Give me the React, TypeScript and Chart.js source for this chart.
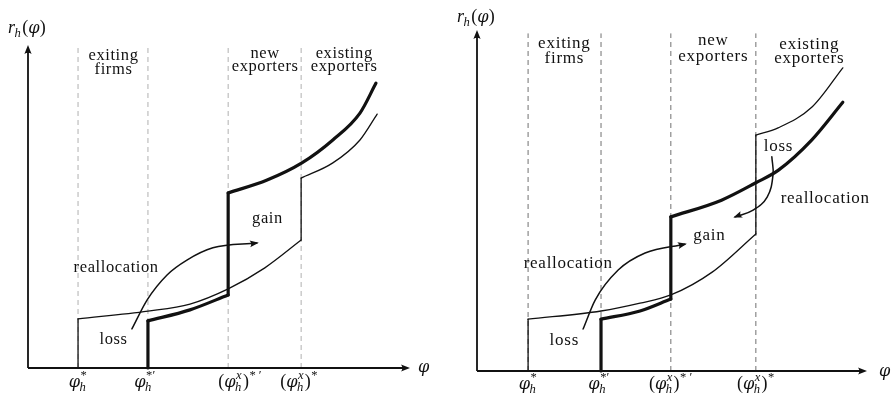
import React, { useEffect, useRef } from "react";
import { Chart, registerables } from "chart.js";

Chart.register(...registerables);

type Pt = { x: number; y: number };
type Atom = { b: string; it?: boolean; sup?: string; sub?: string };

// ---------- left panel: productivity cut-offs and revenue schedules ----------
const leftCutoffs = [13.1, 31.4, 52.4, 71.5];
const leftOldStepLow: Pt[] = [{ x: 13.1, y: 0 }, { x: 13.1, y: 15.2 }];
const leftOldLower: Pt[] = [
  { x: 13.1, y: 15.2 }, { x: 31.4, y: 17.6 }, { x: 42.4, y: 19.8 },
  { x: 52.4, y: 24.5 }, { x: 62.0, y: 31.0 }, { x: 71.5, y: 39.6 },
];
const leftOldStepHigh: Pt[] = [{ x: 71.5, y: 39.6 }, { x: 71.5, y: 58.8 }];
const leftOldUpper: Pt[] = [
  { x: 71.5, y: 58.8 }, { x: 79.8, y: 63.5 }, { x: 86.9, y: 70.6 }, { x: 91.4, y: 78.6 },
];
const leftNewStepLow: Pt[] = [{ x: 31.4, y: 0 }, { x: 31.4, y: 14.6 }];
const leftNewLower: Pt[] = [{ x: 31.4, y: 14.6 }, { x: 42.4, y: 18.0 }, { x: 52.4, y: 22.6 }];
const leftNewStepHigh: Pt[] = [{ x: 52.4, y: 22.6 }, { x: 52.4, y: 54.2 }];
const leftNewUpper: Pt[] = [
  { x: 52.4, y: 54.2 }, { x: 62.6, y: 58.2 }, { x: 71.7, y: 63.5 },
  { x: 79.8, y: 70.6 }, { x: 86.9, y: 78.9 }, { x: 91.1, y: 88.2 },
];
const leftShiftArrow: Pt[] = [
  { x: 27.2, y: 12.1 }, { x: 31.2, y: 21.1 }, { x: 36.4, y: 28.8 },
  { x: 41.6, y: 33.4 }, { x: 48.4, y: 37.2 }, { x: 59.9, y: 38.7 },
];

// ---------- right panel ----------
const rightCutoffs = [13.1, 31.8, 49.7, 71.5];
const rightOldStepLow: Pt[] = [{ x: 13.1, y: 0 }, { x: 13.1, y: 15.2 }];
const rightOldLower: Pt[] = [
  { x: 13.1, y: 15.2 }, { x: 31.8, y: 17.6 }, { x: 41.8, y: 19.9 },
  { x: 49.7, y: 22.3 }, { x: 60.3, y: 29.0 }, { x: 71.5, y: 40.2 },
];
const rightOldStepHigh: Pt[] = [{ x: 71.5, y: 40.2 }, { x: 71.5, y: 69.2 }];
const rightOldUpper: Pt[] = [
  { x: 71.5, y: 69.2 }, { x: 77.2, y: 71.3 }, { x: 85.9, y: 77.4 }, { x: 93.8, y: 88.9 },
];
const rightNewStepLow: Pt[] = [{ x: 31.8, y: 0 }, { x: 31.8, y: 15.2 }];
const rightNewLower: Pt[] = [{ x: 31.8, y: 15.2 }, { x: 41.8, y: 17.6 }, { x: 49.7, y: 21.1 }];
const rightNewStepHigh: Pt[] = [{ x: 49.7, y: 21.1 }, { x: 49.7, y: 45.2 }];
const rightNewUpper: Pt[] = [
  { x: 49.7, y: 45.2 }, { x: 62.7, y: 50.1 }, { x: 71.5, y: 55.2 },
  { x: 77.3, y: 58.9 }, { x: 85.8, y: 67.7 }, { x: 93.8, y: 78.8 },
];
const rightShiftArrow: Pt[] = [
  { x: 27.2, y: 12.3 }, { x: 30.3, y: 20.8 }, { x: 36.2, y: 29.6 },
  { x: 43.1, y: 34.6 }, { x: 53.3, y: 37.2 },
];
const rightBackArrow: Pt[] = [
  { x: 75.6, y: 62.8 }, { x: 75.9, y: 57.5 }, { x: 74.4, y: 51.0 },
  { x: 70.8, y: 47.2 }, { x: 66.2, y: 45.2 },
];

// ---------- tick and axis labels ----------
const cutoffLabels: Atom[][] = [
  [{ b: "φ", it: true, sup: "*", sub: "h" }],
  [{ b: "φ", it: true, sup: "*′", sub: "h" }],
  [{ b: "(" }, { b: "φ", it: true, sup: "x", sub: "h" }, { b: ")", sup: "* ′" }],
  [{ b: "(" }, { b: "φ", it: true, sup: "x", sub: "h" }, { b: ")", sup: "*" }],
];
const yAxisTitle: Atom[] = [{ b: "r", it: true, sub: "h" }, { b: "(" }, { b: "φ", it: true }, { b: ")" }];
const xAxisTitle: Atom[] = [{ b: "φ", it: true }];

type Note = { t: string; x: number; y: number };

const leftNotes: Note[] = [
  { t: "exiting", x: 22.3, y: 95.4 },
  { t: "firms", x: 22.3, y: 91.0 },
  { t: "new", x: 62.0, y: 96.0 },
  { t: "exporters", x: 62.0, y: 92.0 },
  { t: "existing", x: 82.7, y: 96.0 },
  { t: "exporters", x: 82.7, y: 92.0 },
  { t: "reallocation", x: 23.0, y: 29.7 },
  { t: "loss", x: 22.3, y: 7.4 },
  { t: "gain", x: 62.6, y: 44.9 },
];
const rightNotes: Note[] = [
  { t: "exiting", x: 22.3, y: 94.7 },
  { t: "firms", x: 22.3, y: 90.3 },
  { t: "new", x: 60.5, y: 95.6 },
  { t: "exporters", x: 60.5, y: 90.9 },
  { t: "existing", x: 85.1, y: 94.4 },
  { t: "exporters", x: 85.1, y: 90.3 },
  { t: "loss", x: 77.2, y: 64.5 },
  { t: "reallocation", x: 89.2, y: 49.3 },
  { t: "gain", x: 59.5, y: 38.4 },
  { t: "reallocation", x: 23.3, y: 30.2 },
  { t: "loss", x: 22.3, y: 7.6 },
];

const FONT = '"Liberation Serif", "DejaVu Serif", serif';
const PHI_FONT = '"DejaVu Serif", serif';
const INK = "#111";

type PanelSpec = {
  width: number;
  pad: { left: number; top: number; right: number; bottom: number };
  cutoffs: number[];
  dashTop: number;
  dashColor: string;
  thin: Pt[][];
  thick: Pt[][];
  arrows: { pts: Pt[]; curve: "monotone" | "default" }[];
  notes: Note[];
  noteSize: number;
  noteSpacing: number;
  labelShift: number[];
  tickBaseline: number;
  xTitleOffset: { dx: number; dy: number };
  yTitleOffset: { dx: number; dy: number };
};

// the curly phi comes from DejaVu Serif, everything else from Liberation Serif
const fontOf = (it: boolean | undefined, size: number, text: string) =>
  text === "φ"
    ? `${it ? "italic " : ""}${size * 0.9}px ${PHI_FONT}`
    : `${it ? "italic " : ""}${size}px ${FONT}`;

function scriptItalic(s: string) {
  return /^[a-z]+$/.test(s);
}

function atomWidth(ctx: CanvasRenderingContext2D, a: Atom, size: number) {
  ctx.font = fontOf(a.it, size, a.b);
  const bw = ctx.measureText(a.b).width;
  let sw = 0;
  const ss = size * 0.7;
  for (const s of [a.sup, a.sub]) {
    if (!s) continue;
    ctx.font = fontOf(scriptItalic(s), ss, s);
    sw = Math.max(sw, ctx.measureText(s).width);
  }
  return bw + (sw ? sw + 1 : 0);
}

function drawRich(
  ctx: CanvasRenderingContext2D,
  atoms: Atom[],
  x: number,
  y: number,
  size: number,
  align: "left" | "center"
) {
  (ctx as any).letterSpacing = "0px";
  const total = atoms.reduce((s, a) => s + atomWidth(ctx, a, size), 0);
  let cx = align === "center" ? x - total / 2 : x;
  ctx.textAlign = "left";
  ctx.textBaseline = "alphabetic";
  ctx.fillStyle = INK;
  for (const a of atoms) {
    ctx.font = fontOf(a.it, size, a.b);
    const bw = ctx.measureText(a.b).width;
    ctx.fillText(a.b, cx, y);
    const ss = size * 0.7;
    let sw = 0;
    if (a.sup) {
      ctx.font = fontOf(scriptItalic(a.sup), ss, a.sup);
      ctx.fillText(a.sup, cx + bw + 0.5, y - size * 0.42);
      sw = Math.max(sw, ctx.measureText(a.sup).width);
    }
    if (a.sub) {
      ctx.font = fontOf(scriptItalic(a.sub), ss, a.sub);
      ctx.fillText(a.sub, cx + bw - 0.5, y + size * 0.22);
      sw = Math.max(sw, ctx.measureText(a.sub).width);
    }
    cx += bw + (sw ? sw + 1 : 0);
  }
}

function arrowHead(ctx: CanvasRenderingContext2D, tx: number, ty: number, ang: number, len: number, half: number) {
  ctx.save();
  ctx.translate(tx, ty);
  ctx.rotate(ang);
  ctx.beginPath();
  ctx.moveTo(0, 0);
  ctx.lineTo(-len, -half);
  ctx.quadraticCurveTo(-len * 0.7, 0, -len, half);
  ctx.closePath();
  ctx.fillStyle = INK;
  ctx.fill();
  ctx.restore();
}

function decor(spec: PanelSpec) {
  return {
    id: "decor",
    afterDatasetsDraw(chart: any) {
      const { ctx, chartArea: ca, scales } = chart;
      const sx = scales.x, sy = scales.y;
      ctx.save();

      // axes with arrow tips
      ctx.strokeStyle = INK;
      ctx.lineWidth = 1.8;
      ctx.lineCap = "butt";
      ctx.beginPath();
      ctx.moveTo(ca.left, ca.bottom);
      ctx.lineTo(ca.left, ca.top + 6);
      ctx.moveTo(ca.left, ca.bottom);
      ctx.lineTo(ca.right - 6, ca.bottom);
      ctx.stroke();
      arrowHead(ctx, ca.left, ca.top, -Math.PI / 2, 9, 3.6);
      arrowHead(ctx, ca.right, ca.bottom, 0, 9, 3.6);

      // arrow tips on the reallocation curves
      chart.data.datasets.forEach((ds: any, i: number) => {
        if (!ds.arrowTip) return;
        const meta = chart.getDatasetMeta(i);
        const n = meta.data.length;
        const end = meta.data[n - 1];
        const prev = meta.data[n - 2];
        let px = prev.x, py = prev.y;
        if (typeof end.cp1x === "number" && isFinite(end.cp1x) && Math.hypot(end.x - end.cp1x, end.y - end.cp1y) > 0.5) {
          px = end.cp1x; py = end.cp1y;
        }
        const ang = Math.atan2(end.y - py, end.x - px);
        arrowHead(ctx, end.x + Math.cos(ang) * 2, end.y + Math.sin(ang) * 2, ang, 9, 3.4);
      });

      // region and mechanism labels
      ctx.fillStyle = INK;
      ctx.textAlign = "center";
      ctx.textBaseline = "alphabetic";
      ctx.font = `${spec.noteSize}px ${FONT}`;
      (ctx as any).letterSpacing = `${spec.noteSpacing}px`;
      for (const n of spec.notes) {
        ctx.fillText(n.t, sx.getPixelForValue(n.x) + spec.noteSpacing / 2, sy.getPixelForValue(n.y));
      }
      (ctx as any).letterSpacing = "0px";

      // cut-off labels under the axis
      spec.cutoffs.forEach((c, i) => {
        drawRich(ctx, cutoffLabels[i], sx.getPixelForValue(c) + spec.labelShift[i], ca.bottom + spec.tickBaseline, 18, "center");
      });

      // axis titles
      drawRich(ctx, yAxisTitle, ca.left + spec.yTitleOffset.dx, ca.top + spec.yTitleOffset.dy, 18, "left");
      drawRich(ctx, xAxisTitle, ca.right + spec.xTitleOffset.dx, ca.bottom + spec.xTitleOffset.dy, 18, "left");
      ctx.restore();
    },
  };
}

function buildConfig(spec: PanelSpec): any {
  const line = (pts: Pt[], width: number, extra: any = {}) => ({
    data: pts,
    showLine: true,
    borderColor: INK,
    borderWidth: width,
    pointRadius: 0,
    fill: false,
    clip: false,
    borderCapStyle: "round",
    borderJoinStyle: "miter",
    cubicInterpolationMode: "monotone",
    ...extra,
  });
  const datasets: any[] = [];
  spec.thick.forEach((p) => datasets.push(line(p, 3.2)));
  spec.thin.forEach((p) => datasets.push(line(p, 1.3)));
  spec.arrows.forEach((a) =>
    datasets.push(
      line(a.pts, 1.5, {
        arrowTip: true,
        cubicInterpolationMode: a.curve,
        tension: a.curve === "default" ? 0.4 : 0,
      })
    )
  );
  spec.cutoffs.forEach((c) =>
    datasets.push(
      line([{ x: c, y: 0 }, { x: c, y: spec.dashTop }], 1, {
        borderColor: spec.dashColor,
        borderDash: [5, 4],
        borderCapStyle: "butt",
        cubicInterpolationMode: "default",
        tension: 0,
      })
    )
  );
  return {
    type: "scatter",
    data: { datasets },
    options: {
      animation: false,
      responsive: false,
      maintainAspectRatio: false,
      events: [],
      layout: { padding: spec.pad },
      scales: {
        x: { type: "linear", min: 0, max: 100, display: false },
        y: { type: "linear", min: 0, max: 100, display: false },
      },
      plugins: { legend: { display: false }, tooltip: { enabled: false } },
    },
    plugins: [decor(spec)],
  };
}

const leftSpec: PanelSpec = {
  width: 445,
  pad: { left: 28, top: 45, right: 35, bottom: 27 },
  cutoffs: leftCutoffs,
  dashTop: 100,
  dashColor: "#b0b0b0",
  thin: [leftOldStepLow, leftOldLower, leftOldStepHigh, leftOldUpper],
  thick: [leftNewStepLow, leftNewLower, leftNewStepHigh, leftNewUpper],
  arrows: [{ pts: leftShiftArrow, curve: "monotone" }],
  notes: leftNotes,
  noteSize: 16.5,
  noteSpacing: 0.6,
  labelShift: [0, -3, 12, -2],
  tickBaseline: 19,
  xTitleOffset: { dx: 8, dy: 4 },
  yTitleOffset: { dx: -20, dy: -12 },
};

const rightSpec: PanelSpec = {
  width: 450,
  pad: { left: 32, top: 30, right: 28, bottom: 24 },
  cutoffs: rightCutoffs,
  dashTop: 99,
  dashColor: "#707070",
  thin: [rightOldStepLow, rightOldLower, rightOldStepHigh, rightOldUpper],
  thick: [rightNewStepLow, rightNewLower, rightNewStepHigh, rightNewUpper],
  arrows: [
    { pts: rightShiftArrow, curve: "monotone" },
    { pts: rightBackArrow, curve: "default" },
  ],
  notes: rightNotes,
  noteSize: 17,
  noteSpacing: 0.75,
  labelShift: [0, -2, 0, 0],
  tickBaseline: 18,
  xTitleOffset: { dx: 12, dy: 5 },
  yTitleOffset: { dx: -20, dy: -8 },
};

function Panel({ spec, left }: { spec: PanelSpec; left: number }) {
  const ref = useRef<HTMLCanvasElement>(null);
  useEffect(() => {
    const chart = new Chart(ref.current as HTMLCanvasElement, buildConfig(spec));
    return () => chart.destroy();
  }, [spec]);
  return (
    <canvas
      ref={ref}
      width={spec.width}
      height={395}
      style={{ position: "absolute", left, top: 0, width: spec.width, height: 395 }}
    />
  );
}

export default function App() {
  return (
    <div style={{ position: "fixed", left: 0, top: 0, width: 895, height: 395, background: "#fff", overflow: "hidden" }}>
      <Panel spec={leftSpec} left={0} />
      <Panel spec={rightSpec} left={445} />
    </div>
  );
}
